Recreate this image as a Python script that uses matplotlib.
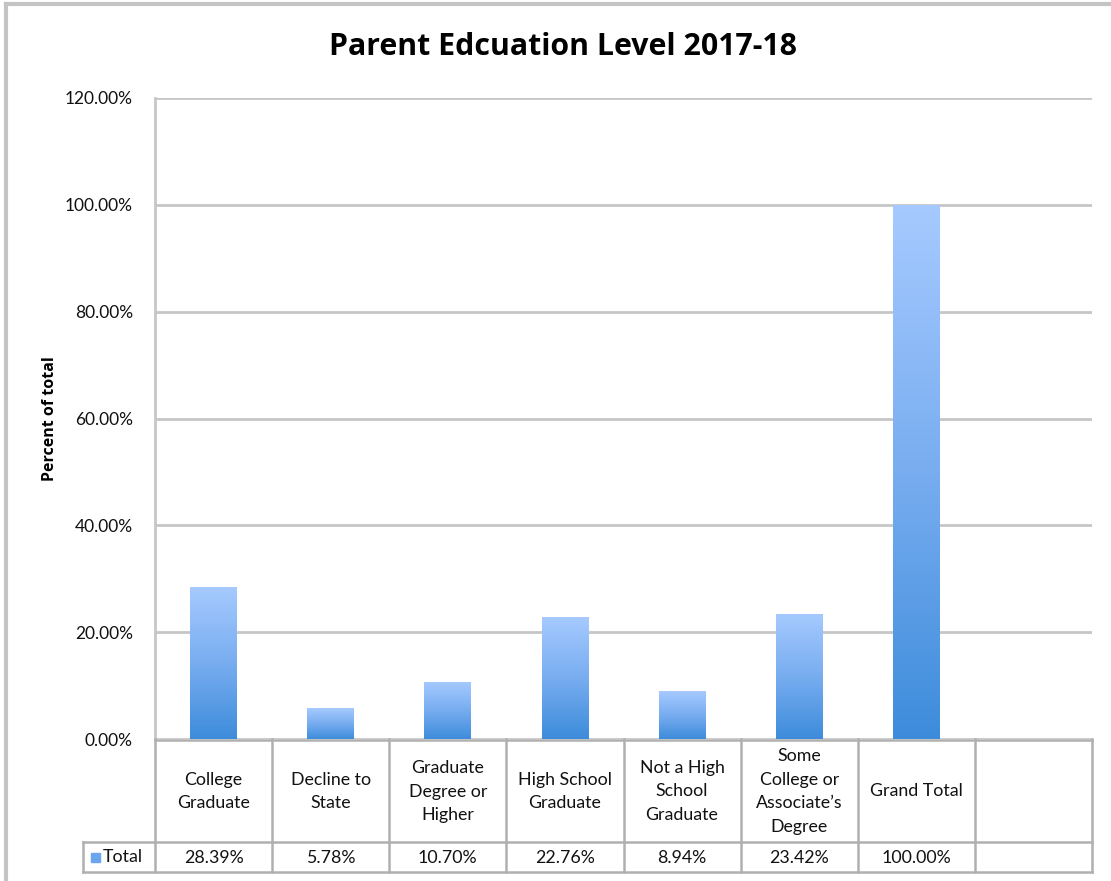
import matplotlib
matplotlib.use("Agg")
import matplotlib.pyplot as plt
import numpy as np
from matplotlib.colors import LinearSegmentedColormap
from matplotlib.lines import Line2D
from matplotlib.patches import Rectangle
import matplotlib.transforms as mtrans

title = "Parent Edcuation Level 2017-18"
categories = ["College\nGraduate", "Decline to\nState", "Graduate\nDegree or\nHigher",
              "High School\nGraduate", "Not a High\nSchool\nGraduate",
              "Some\nCollege or\nAssociate\u2019s\nDegree", "Grand Total", ""]
values = [28.39, 5.78, 10.70, 22.76, 8.94, 23.42, 100.00, None]
value_labels = ["28.39%", "5.78%", "10.70%", "22.76%", "8.94%", "23.42%", "100.00%", ""]
yticks = [0, 20, 40, 60, 80, 100, 120]
ytick_labels = ["0.00%", "20.00%", "40.00%", "60.00%", "80.00%", "100.00%", "120.00%"]
series_name = "Total"
ylabel = "Percent of total"

plt.rcParams['font.family'] = ['Lato', 'DejaVu Sans']
bold_family = ['Open Sans', 'DejaVu Sans']

W, H = 1111, 881
fig = plt.figure(figsize=(W / 100, H / 100), dpi=100)
fig.patch.set_facecolor("white")

def fx(px):
    return px / W

def fy(py):
    return 1 - py / H

# outer border
fig.add_artist(Line2D([fx(6), fx(6)], [fy(4), fy(881)], color="#c4c4c4", lw=3))
fig.add_artist(Line2D([fx(6), fx(1111)], [fy(4), fy(4)], color="#c4c4c4", lw=3))

left, right, top, bottom = 155, 1092, 98, 739
ax = fig.add_axes([fx(left), fy(bottom), fx(right - left), (bottom - top) / H])

n = len(categories)
x = np.arange(n)

grid_color = "#c6c6c6"
ax.set_yticks(yticks)
ax.set_yticklabels(ytick_labels, fontsize=12.5, color="#111111")
ax.tick_params(axis="y", length=0, pad=16)
ax.set_xticks([])
for y in yticks:
    ax.axhline(y, color=grid_color, lw=2, zorder=1)
for s in ["top", "right", "bottom"]:
    ax.spines[s].set_visible(False)
ax.spines["left"].set_color(grid_color)
ax.spines["left"].set_linewidth(2)

ax.set_ylabel(ylabel, fontsize=11.5, fontweight="bold", family=bold_family)
ax.yaxis.set_label_coords(-0.104, 0.5)

cmap = LinearSegmentedColormap.from_list("bar", ["#3d8cdb", "#78adf0", "#a6caff"])
grad = np.linspace(0, 1, 256).reshape(-1, 1)
bar_vals = [v for v in values if v is not None]
bars = ax.bar(x[:len(bar_vals)], bar_vals, width=0.4, color="none", zorder=2)
for b in bars:
    x0, y0 = b.get_x(), b.get_y()
    w, h = b.get_width(), b.get_height()
    im = ax.imshow(grad, cmap=cmap, aspect="auto", origin="lower",
                   extent=[x0, x0 + w, y0, y0 + h], zorder=3, interpolation="bilinear")
    im.set_clip_path(b)
ax.set_xlim(-0.5, n - 0.5)
ax.set_ylim(0, 120)

fig.suptitle(title, x=fx(563), y=fy(47), va="center", fontsize=21.8, fontweight="bold",
             family=bold_family)

# data table
trans = mtrans.blended_transform_factory(ax.transData, fig.transFigure)
line_color = "#b0b0b0"
row_top, row_mid, row_bot = 739, 842, 872
for i in range(n + 1):
    xb = i - 0.5
    fig.add_artist(Line2D([xb, xb], [fy(row_top), fy(row_bot)], transform=trans,
                          color=line_color, lw=1.8))
fig.add_artist(Line2D([fx(83), fx(right)], [fy(row_mid), fy(row_mid)], color=line_color, lw=1.8))
fig.add_artist(Line2D([fx(83), fx(right)], [fy(row_bot), fy(row_bot)], color=line_color, lw=1.8))
fig.add_artist(Line2D([fx(left), fx(right)], [fy(row_top + 1), fy(row_top + 1)], color=line_color, lw=1.8))
fig.add_artist(Line2D([fx(83), fx(83)], [fy(row_mid), fy(row_bot)], color=line_color, lw=1.8))

for i, (c, v) in enumerate(zip(categories, value_labels)):
    fig.text(x[i], fy((row_top + row_mid) / 2 + 1), c, transform=trans, ha="center", va="center",
             fontsize=12.8, linespacing=1.58, color="#111111")
    fig.text(x[i], fy((row_mid + row_bot) / 2 + 1), v, transform=trans, ha="center", va="center",
             fontsize=12.8, color="#111111")

# legend key in table
fig.add_artist(Rectangle((fx(91), fy(862)), fx(9), 9 / H, color="#6aa6ee"))
fig.text(fx(103), fy(857), series_name, ha="left", va="center", fontsize=12.8, color="#111111")

fig.savefig("out.png", dpi=100)
